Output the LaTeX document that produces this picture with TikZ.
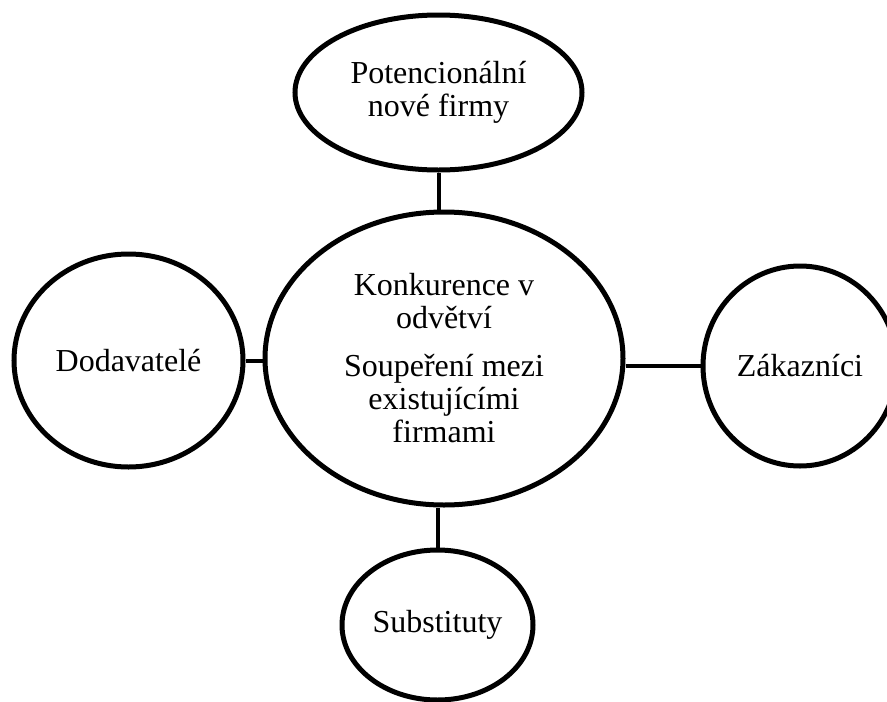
\documentclass[tikz,border=0pt]{standalone}
\usepackage{fontspec}
\setmainfont{Liberation Serif}
\usetikzlibrary{shapes.geometric}
\begin{document}
\begin{tikzpicture}[x=1pt,y=-1pt,
  bubble/.style={draw=black, line width=5pt, ellipse, inner sep=0pt, align=center,
    font=\fontsize{32}{33}\selectfont},
  link/.style={draw=black, line width=4pt}]
\clip (0,0) rectangle (887,702);
\fill[white] (0,0) rectangle (887,702);
\node[bubble, minimum width=287pt, minimum height=155pt] (top) at (438.5,92.5)
  {Potencionální\\nové firmy};
\node[bubble, minimum width=358pt, minimum height=293pt] (mid) at (444,358.5)
  {Konkurence v\\odvětví\\[15pt]Soupeření mezi\\existujícími\\firmami};
\node[bubble, minimum width=229pt, minimum height=213pt] (left) at (128.5,360.5)
  {Dodavatelé};
\node[bubble, minimum width=194pt, minimum height=200pt] (right) at (800,366)
  {Zákazníci};
\node[bubble, minimum width=191pt, minimum height=150pt] (bot) at (437.5,625)
  {Substituty};
\draw[link] (top.south) -- (top.south |- mid.north);
\draw[link] (left.east) -- (left.east -| mid.west);
\draw[link] (mid.east |- right.west) -- (right.west);
\draw[link] (bot.north) -- (bot.north |- mid.south);
\end{tikzpicture}
\end{document}
